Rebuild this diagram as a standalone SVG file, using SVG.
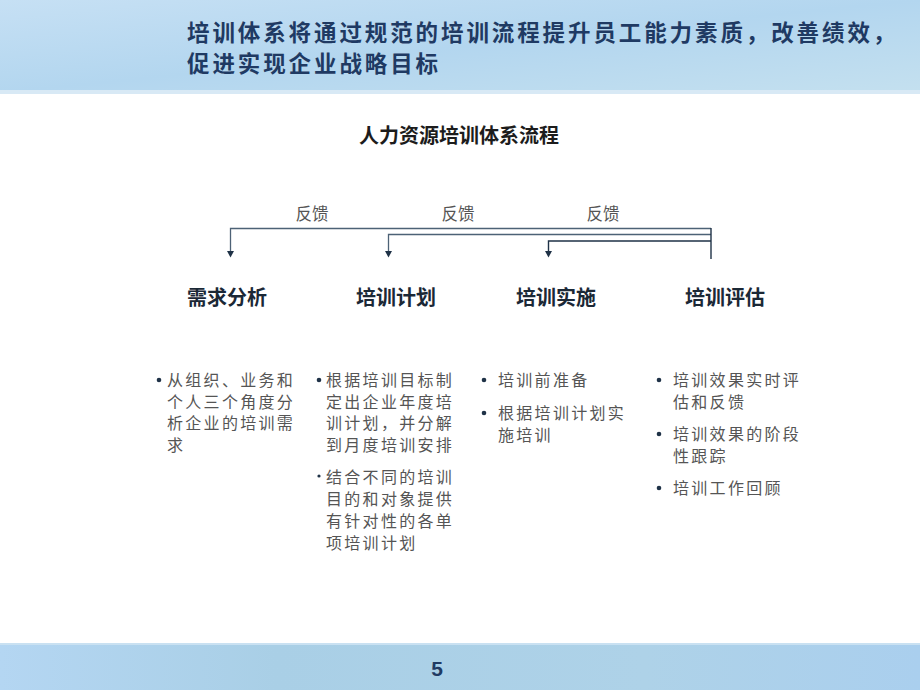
<svg xmlns="http://www.w3.org/2000/svg" width="920" height="690" viewBox="0 0 920 690">
<defs>
<linearGradient id="hdr" x1="0" y1="0" x2="1" y2="1">
<stop offset="0" stop-color="#c6e0f4"/>
<stop offset="0.5" stop-color="#b3d6ef"/>
<stop offset="1" stop-color="#c4e0ef"/>
</linearGradient>
<linearGradient id="ftr" x1="0" y1="0" x2="1" y2="0">
<stop offset="0" stop-color="#b4d6f2"/>
<stop offset="0.3" stop-color="#a9cfe6"/>
<stop offset="0.7" stop-color="#aed2e8"/>
<stop offset="1" stop-color="#aacfee"/>
</linearGradient>
<style>
.hd{font-family:"Noto Sans CJK SC","Noto Sans",sans-serif;font-weight:bold;font-size:22.5px;letter-spacing:2.9px;fill:#1f3a63}
.tt{font-family:"Noto Sans CJK SC",sans-serif;font-weight:bold;font-size:20px;fill:#1c1c1c;text-anchor:middle}
.st{font-family:"Noto Sans CJK SC",sans-serif;font-weight:bold;font-size:20px;fill:#1b2836;text-anchor:middle}
.fb{font-family:"Noto Sans CJK SC",sans-serif;font-size:16.5px;fill:#555;text-anchor:middle}
.bt{font-family:"Noto Sans CJK SC",sans-serif;font-size:16px;letter-spacing:2.3px;fill:#555}
.dot{fill:#1f3247}
.ln{fill:none;stroke:#4d6276;stroke-width:1.3}
.ln2{fill:none;stroke:#1f3247;stroke-width:1.4}
.ah{fill:#1f3247}
</style>
</defs>
<rect width="920" height="690" fill="#ffffff"/>
<rect x="0" y="0" width="920" height="93" fill="url(#hdr)"/>
<rect x="0" y="90" width="920" height="4" fill="#d8e9f5"/>
<rect x="0" y="644" width="920" height="46" fill="url(#ftr)"/>
<rect x="0" y="643" width="920" height="2" fill="#c9e1f2"/>
<g id="header">
<text class="hd"><tspan x="187" y="41">培训体系将通过规范的培训流程提升员工能力素质，改善绩效，</tspan><tspan x="187" y="72">促进实现企业战略目标</tspan></text>
</g>
<g id="title"><text class="tt" x="459" y="143">人力资源培训体系流程</text></g>
<g id="connectors">
<polyline class="ln" points="711,228.5 230.5,228.5 230.5,252"/>
<polygon class="ah" points="227,251 234,251 230.5,257.5"/>
<polyline class="ln" points="711,234.5 388.5,234.5 388.5,252"/>
<polygon class="ah" points="385,251 392,251 388.5,257.5"/>
<polyline class="ln2" points="711,241 548.5,241 548.5,252"/>
<polygon class="ah" points="545,251 552,251 548.5,257.5"/>
<line class="ln2" x1="711" y1="228" x2="711" y2="259"/>
<text class="fb" x="312" y="220">反馈</text>
<text class="fb" x="458" y="220">反馈</text>
<text class="fb" x="603" y="220">反馈</text>
</g>
<g id="node-xuqiu">
<text class="st" x="227" y="305">需求分析</text>
<circle class="dot" cx="159" cy="380" r="2.3"/>
<text class="bt"><tspan x="167" y="386">从组织、业务和</tspan><tspan x="167" y="407.7">个人三个角度分</tspan><tspan x="167" y="429.4">析企业的培训需</tspan><tspan x="167" y="451.1">求</tspan></text>
</g>
<g id="node-jihua">
<text class="st" x="396" y="305">培训计划</text>
<circle class="dot" cx="319" cy="380" r="2.3"/>
<text class="bt"><tspan x="326" y="386">根据培训目标制</tspan><tspan x="326" y="407.7">定出企业年度培</tspan><tspan x="326" y="429.4">训计划，并分解</tspan><tspan x="326" y="451.1">到月度培训安排</tspan></text>
<circle class="dot" cx="319" cy="476" r="1.6"/>
<text class="bt"><tspan x="326" y="483">结合不同的培训</tspan><tspan x="326" y="505">目的和对象提供</tspan><tspan x="326" y="527">有针对性的各单</tspan><tspan x="326" y="549">项培训计划</tspan></text>
</g>
<g id="node-shishi">
<text class="st" x="556" y="305">培训实施</text>
<circle class="dot" cx="484" cy="380" r="2.3"/>
<text class="bt" x="498" y="386">培训前准备</text>
<circle class="dot" cx="484" cy="413" r="2.3"/>
<text class="bt"><tspan x="498" y="419">根据培训计划实</tspan><tspan x="498" y="441">施培训</tspan></text>
</g>
<g id="node-pinggu">
<text class="st" x="725" y="305">培训评估</text>
<circle class="dot" cx="659" cy="380" r="2.3"/>
<text class="bt"><tspan x="673" y="386">培训效果实时评</tspan><tspan x="673" y="408">估和反馈</tspan></text>
<circle class="dot" cx="659" cy="434" r="2.3"/>
<text class="bt"><tspan x="673" y="440">培训效果的阶段</tspan><tspan x="673" y="462">性跟踪</tspan></text>
<circle class="dot" cx="659" cy="488" r="2.3"/>
<text class="bt" x="673" y="494">培训工作回顾</text>
</g>
<g id="page"><text x="437" y="676" text-anchor="middle" font-family="Liberation Sans, Arial, sans-serif" font-weight="bold" font-size="21" fill="#1f3a63">5</text></g>
</svg>
